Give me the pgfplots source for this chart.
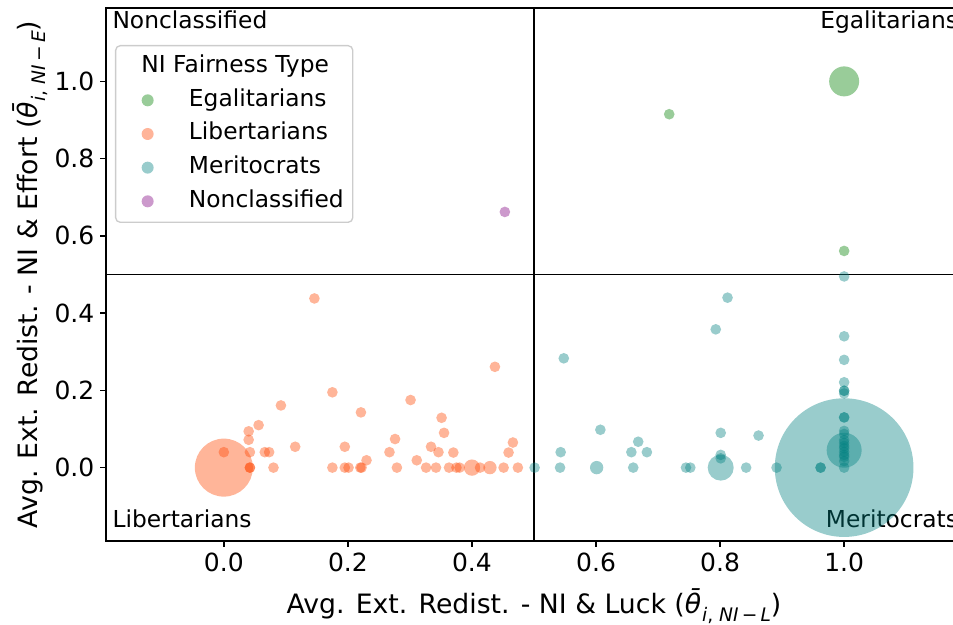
\documentclass[border=0pt]{standalone}
\usepackage{fontspec}
\setmainfont{DejaVu Sans}
\usepackage{pgfplots}
\pgfplotsset{compat=1.18}
\usepackage{pgfplotstable}

\definecolor{egal}{RGB}{0,128,0}
\definecolor{libr}{RGB}{255,69,0}
\definecolor{merit}{RGB}{0,128,128}
\definecolor{noncl}{RGB}{128,0,128}

% x = avg. redistribution (luck), y = avg. redistribution (effort), r = marker radius (pt)
\pgfplotstableread{
x y r
0.000 0.000 17.4
0.000 0.040 3.2
0.146 0.438 3.2
0.175 0.195 3.2
0.092 0.161 3.2
0.301 0.175 3.2
0.221 0.143 3.2
0.056 0.110 3.2
0.040 0.094 3.2
0.040 0.072 3.2
0.276 0.074 3.2
0.115 0.054 3.2
0.195 0.054 3.2
0.042 0.040 3.2
0.066 0.040 3.2
0.073 0.040 3.2
0.267 0.040 3.2
0.230 0.019 3.2
0.311 0.019 3.2
0.042 0.000 3.2
0.042 0.000 3.2
0.080 0.000 3.2
0.175 0.000 3.2
0.195 0.000 3.2
0.201 0.000 3.2
0.220 0.000 3.2
0.222 0.000 3.2
0.279 0.000 3.2
0.326 0.000 3.2
0.437 0.261 3.2
0.351 0.129 3.2
0.355 0.090 3.2
0.334 0.054 3.2
0.346 0.040 3.2
0.370 0.039 3.2
0.466 0.065 3.2
0.459 0.039 3.2
0.342 0.000 3.2
0.363 0.000 3.2
0.375 0.000 3.2
0.380 0.000 3.2
0.400 0.000 4.9
0.413 0.000 3.2
0.429 0.000 4.0
0.451 0.000 3.2
0.474 0.000 3.2
}\libertarians

\pgfplotstableread{
x y r
1.000 0.000 41.6
1.000 0.045 10.5
0.801 0.000 7.8
0.501 0.000 3.2
0.543 0.040 3.2
0.542 0.000 3.2
0.548 0.283 3.2
0.601 0.000 4.0
0.607 0.098 3.2
0.668 0.067 3.2
0.657 0.040 3.2
0.682 0.040 3.2
0.660 0.000 3.2
0.745 0.000 3.2
0.752 0.000 3.2
0.812 0.440 3.2
0.793 0.358 3.2
0.801 0.090 3.2
0.862 0.083 3.2
0.801 0.033 3.2
0.801 0.024 3.2
0.842 0.000 3.2
0.891 0.000 3.2
0.962 0.000 3.2
0.962 0.000 3.2
1.000 0.495 3.2
1.000 0.340 3.2
1.000 0.279 3.2
1.000 0.221 3.2
1.000 0.199 3.2
1.000 0.199 3.2
1.000 0.192 3.2
1.000 0.130 3.2
1.000 0.130 3.2
1.000 0.095 3.2
1.000 0.087 3.2
1.000 0.071 3.2
1.000 0.064 3.2
1.000 0.056 3.2
1.000 0.050 3.2
1.000 0.041 3.2
1.000 0.033 3.2
1.000 0.028 3.2
1.000 0.017 3.2
1.000 0.000 3.2
}\meritocrats

\pgfplotstableread{
x y r
1.000 1.000 9.0
0.718 0.915 3.2
1.000 0.561 3.2
}\egalitarians

\pgfplotstableread{
x y r
0.453 0.662 3.2
}\nonclassified

\pgfplotsset{
  bubbles/.style={
    scatter, only marks, mark=*, forget plot,
    scatter/use mapped color={draw opacity=0, fill=#1, fill opacity=0.4},
    visualization depends on={\thisrow{r} \as \bubr},
    scatter/@pre marker code/.append style={/tikz/mark size=\bubr pt},
  },
  legbub/.style={
    legend image code/.code={%
      \path[draw=none] (-13.8pt,0pt);
      \path[draw=none, fill=#1, fill opacity=0.4] (0pt,0pt) circle[radius=3.6pt];},
  },
}

\newcommand{\subfont}{\fontsize{11.2}{13}\selectfont}

\begin{document}
\begin{tikzpicture}
\begin{axis}[
  scale only axis, width=513.6pt, height=319.8pt,
  xmin=-0.19, xmax=1.19, ymin=-0.19, ymax=1.19,
  clip=false,
  axis line style={black, line width=0.8pt},
  xtick={0,0.2,0.4,0.6,0.8,1}, ytick={0,0.2,0.4,0.6,0.8,1},
  tick pos=left, tick align=outside, major tick length=3.5pt,
  tick style={black, line width=0.8pt},
  /pgf/number format/assume math mode=true,
  ticklabel style={font=\fontsize{15}{18}\selectfont,
    /pgf/number format/fixed, /pgf/number format/fixed zerofill,
    /pgf/number format/precision=1},
  xlabel={Avg. Ext. Redist. - NI \& Luck (\textit{θ̄}\raisebox{-0.3em}{\subfont\textit{i}, \textit{NI}\,−\,\textit{L}})},
  ylabel={Avg. Ext. Redist. - NI \& Effort (\textit{θ̄}\raisebox{-0.3em}{\subfont\textit{i}, \textit{NI}\,−\,\textit{E}})},
  xlabel style={at={(axis description cs:0.5,-0.1351)}, anchor=base,
    font=\fontsize{16}{19}\selectfont, inner sep=0pt},
  ylabel style={at={(axis description cs:-0.0798,0.5)}, anchor=base,
    font=\fontsize{16}{19}\selectfont, inner sep=0pt},
  legend style={
    at={(rel axis cs:0.0105,0.9306)}, anchor=north west,
    draw=black!20, line width=0.8pt, rounded corners=2.8pt, fill=white,
    font=\fontsize{14}{16.8}\selectfont,
    inner xsep=5.4pt, inner ysep=5.6pt,
    row sep=6.2pt, column sep=21.2pt,
    nodes={inner sep=0pt, text height=10.5pt, text depth=3.5pt},
  },
  legend cell align=left,
]
\addplot[bubbles=libr] table {\libertarians};
\addplot[bubbles=merit] table {\meritocrats};
\addplot[bubbles=egal] table {\egalitarians};
\addplot[bubbles=noncl] table {\nonclassified};

% quadrant dividers
\draw[black, line width=1pt] (axis cs:0.5,-0.19) -- (axis cs:0.5,1.19);
\draw[black, line width=1pt] (axis cs:-0.19,0.5) -- (axis cs:1.19,0.5);

% quadrant names
\begin{scope}[every node/.style={inner sep=0pt, font=\fontsize{14}{17}\selectfont}]
\node[anchor=base west] at (axis cs:-0.18,1.1357) {Nonclassified};
\node[anchor=base east] at (axis cs:1.184,1.1357) {Egalitarians};
\node[anchor=base west] at (axis cs:-0.18,-0.154) {Libertarians};
\node[anchor=base east] at (axis cs:1.184,-0.154) {Meritocrats};
\end{scope}

\addlegendimage{empty legend}
\addlegendentry{\hspace*{-28.5pt}NI Fairness Type}
\addlegendimage{legbub=egal}
\addlegendentry{Egalitarians}
\addlegendimage{legbub=libr}
\addlegendentry{Libertarians}
\addlegendimage{legbub=merit}
\addlegendentry{Meritocrats}
\addlegendimage{legbub=noncl}
\addlegendentry{Nonclassified}

\coordinate (bbsw) at (rel axis cs:-0.12383,-0.15572);
\coordinate (bbne) at (rel axis cs:0.98949,1.01501);
\end{axis}
\pgfresetboundingbox
\useasboundingbox (bbsw) rectangle (bbne);
\end{tikzpicture}
\end{document}
